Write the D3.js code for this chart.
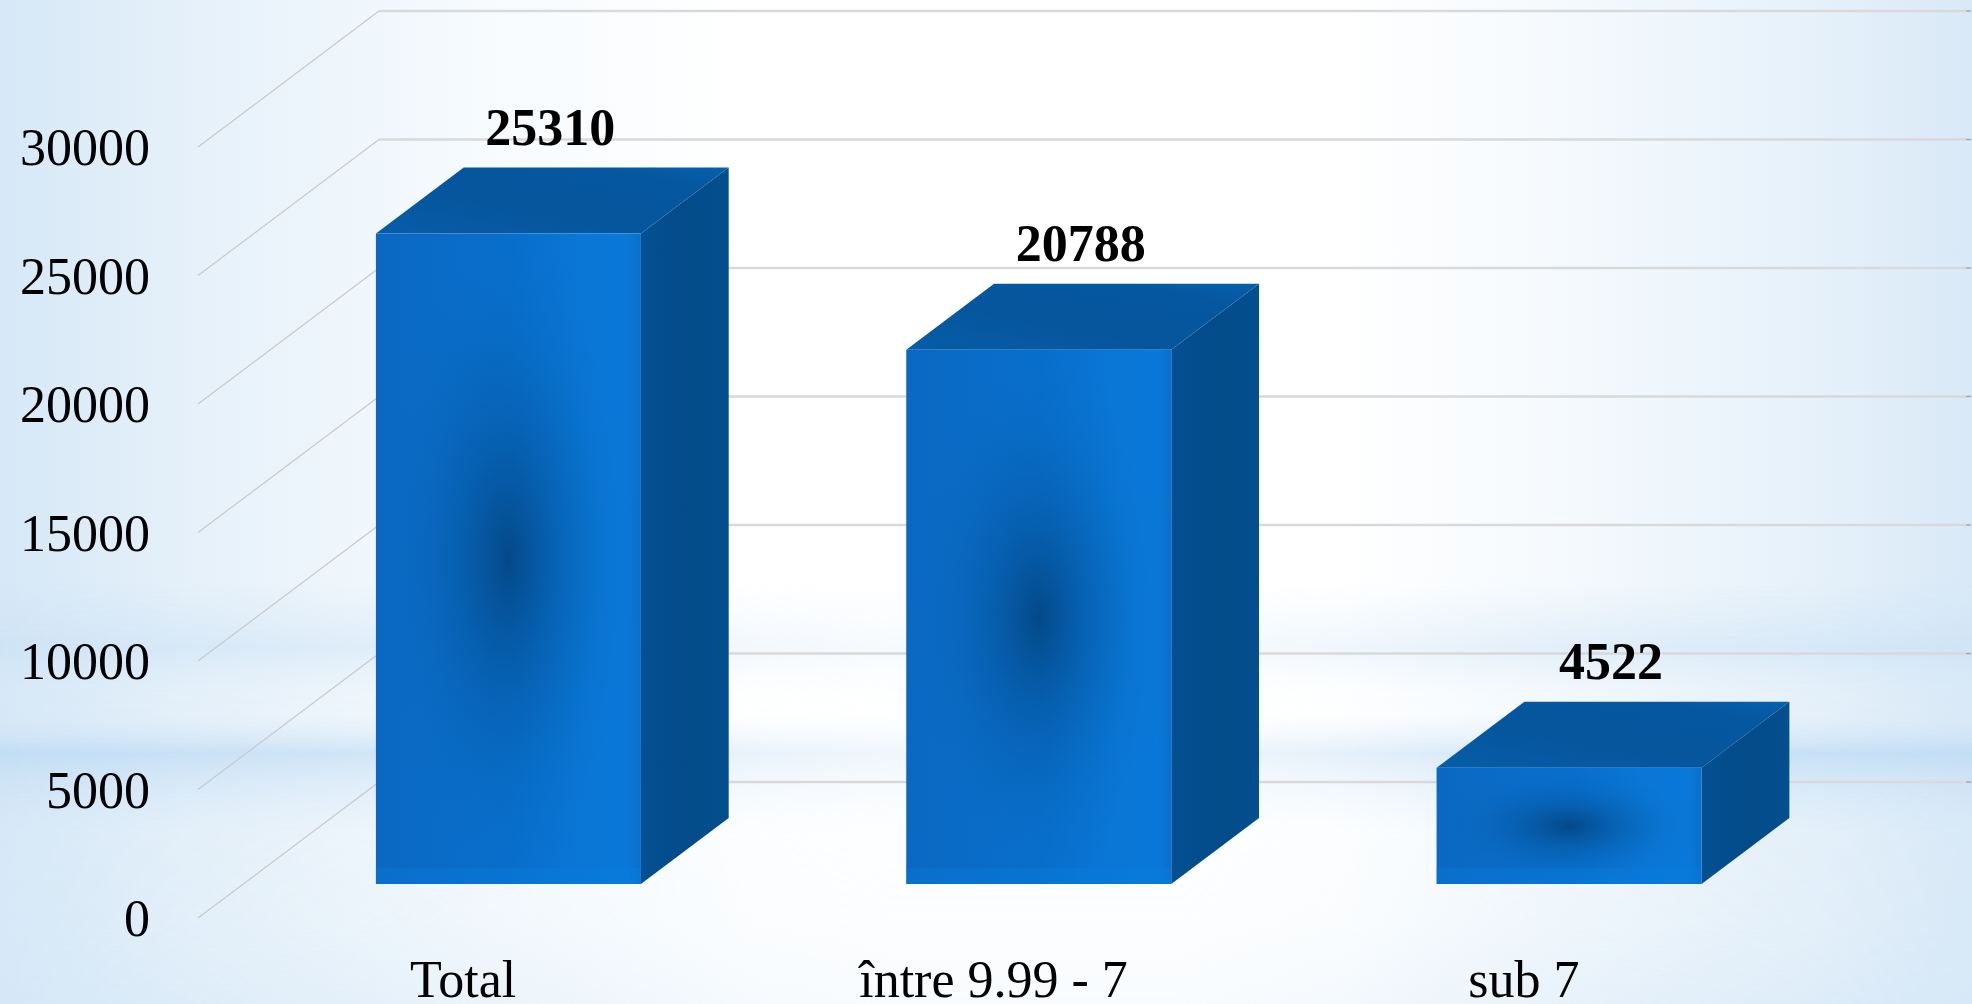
<!DOCTYPE html>
<html>
<head>
<meta charset="utf-8">
<script src="https://cdn.jsdelivr.net/npm/d3@7"></script>
<style>
  html, body { margin: 0; padding: 0; background: #ffffff; overflow: hidden; }
  svg { display: block; }
</style>
</head>
<body>
<svg id="chart" width="1972" height="1004"></svg>
<script>
// ---- data ----
const categories = ["Total", "între 9.99 - 7", "sub 7"];
const values = [25310, 20788, 4522];
const yTicks = [0, 5000, 10000, 15000, 20000, 25000, 30000];
const yMax = 30000;

// ---- layout ----
const W = 1972, H = 1004;
const svg = d3.select("#chart");

// oblique 3D projection
const depthDX = 181, depthDY = -136;   // full depth offset (front plane -> back wall)
const barZ0 = 0.25, barZ1 = 0.735;     // bar depth span
const x = d3.scaleBand().domain(categories).range([198, 1789]).paddingInner(0).paddingOuter(0);
const y = d3.scaleLinear().domain([0, yMax]).range([918, 147]);
const barW = 265;
const P = (px, v, z) => [px + depthDX * z, y(v) + depthDY * z];

// ---- defs ----
const defs = svg.append("defs");

const bgH = defs.append("linearGradient").attr("id", "bgH").attr("x1", 0).attr("x2", 1).attr("y1", 0).attr("y2", 0);
[[0, "#d6e8f7"], [0.1, "#e6f1fa"], [0.25, "#f7fbfe"], [0.38, "#ffffff"], [0.68, "#ffffff"], [0.8, "#f4f9fd"], [0.92, "#e6f1fa"], [1, "#d9e9f7"]]
  .forEach(([o, c]) => bgH.append("stop").attr("offset", o).attr("stop-color", c));

const bgBands = defs.append("linearGradient").attr("id", "bgBands").attr("x1", 0).attr("x2", 0).attr("y1", 0).attr("y2", 1);
[[0, "#ffffff", 0], [0.58, "#cfe4f6", 0], [0.645, "#c8e0f5", 0.55], [0.69, "#d8eaf8", 0.1], [0.71, "#d8eaf8", 0.05],
 [0.75, "#bcdaf3", 0.8], [0.78, "#c6dff5", 0.5], [0.83, "#d8eaf8", 0.15], [0.92, "#d8eaf8", 0.25], [1, "#d4e7f7", 0.5]]
  .forEach(([o, c, a]) => bgBands.append("stop").attr("offset", o).attr("stop-color", c).attr("stop-opacity", a));

const bandMaskGrad = defs.append("linearGradient").attr("id", "bandMaskGrad").attr("x1", 0).attr("x2", 1).attr("y1", 0).attr("y2", 0);
[[0, 1], [0.2, 0.75], [0.45, 0.3], [0.6, 0.3], [0.8, 0.8], [1, 1]]
  .forEach(([o, a]) => bandMaskGrad.append("stop").attr("offset", o).attr("stop-color", "#fff").attr("stop-opacity", a));
defs.append("mask").attr("id", "bandMask").append("rect")
  .attr("width", W).attr("height", H).attr("fill", "url(#bandMaskGrad)");

const frontGrad = defs.append("linearGradient").attr("id", "frontGrad").attr("x1", 0).attr("x2", 1).attr("y1", 0).attr("y2", 0);
[[0, "#0a68c2"], [0.2, "#0a6bc6"], [0.5, "#086ecb"], [0.8, "#0a77d6"], [0.95, "#0a78d8"], [1, "#086fcc"]]
  .forEach(([o, c]) => frontGrad.append("stop").attr("offset", o).attr("stop-color", c));

const spot = defs.append("radialGradient").attr("id", "spot").attr("cx", 0.5).attr("cy", 0.5).attr("r", 0.5);
[[0, "#03427d", 0.85], [0.35, "#044d8f", 0.45], [0.7, "#0558a0", 0.12], [1, "#0a68c2", 0]]
  .forEach(([o, c, a]) => spot.append("stop").attr("offset", o).attr("stop-color", c).attr("stop-opacity", a));

const sideGrad = defs.append("linearGradient").attr("id", "sideGrad").attr("x1", 0).attr("x2", 1).attr("y1", 0).attr("y2", 0);
[[0, "#045092"], [0.5, "#034b89"], [1, "#044f8e"]]
  .forEach(([o, c]) => sideGrad.append("stop").attr("offset", o).attr("stop-color", c));

const topGrad = defs.append("linearGradient").attr("id", "topGrad").attr("x1", 0).attr("x2", 1).attr("y1", 1).attr("y2", 0);
[[0, "#075da8"], [0.4, "#05569d"], [0.8, "#05579f"], [1, "#0660ac"]]
  .forEach(([o, c]) => topGrad.append("stop").attr("offset", o).attr("stop-color", c));

// ---- background ----
svg.append("rect").attr("width", W).attr("height", H).attr("fill", "url(#bgH)");
svg.append("rect").attr("width", W).attr("height", H).attr("fill", "url(#bgBands)").attr("mask", "url(#bandMask)");

// ---- walls: side-wall diagonals and back-wall gridlines ----
const x0 = x.range()[0], x1 = x.range()[1];
svg.append("g").selectAll("line").data(yTicks).join("line")
  .attr("x1", d => P(x0, d, 0)[0]).attr("y1", d => P(x0, d, 0)[1])
  .attr("x2", d => P(x0, d, 1)[0]).attr("y2", d => P(x0, d, 1)[1])
  .attr("stroke", "#c9c9c9").attr("stroke-width", 1.2);

svg.append("g").selectAll("line").data(yTicks).join("line")
  .attr("x1", d => P(x0, d, 1)[0]).attr("y1", d => P(x0, d, 1)[1])
  .attr("x2", d => P(x1, d, 1)[0] - 4).attr("y2", d => P(x1, d, 1)[1])
  .attr("stroke", "#d9d9d9").attr("stroke-width", 2.5);
svg.append("g").selectAll("line").data(yTicks).join("line")
  .attr("x1", d => P(x1, d, 1)[0] - 4).attr("y1", d => P(x1, d, 1)[1])
  .attr("x2", d => P(x1, d, 1)[0] + 1).attr("y2", d => P(x1, d, 1)[1])
  .attr("stroke", "#a8a8a8").attr("stroke-width", 1.5);

// ---- bars ----
const bars = svg.append("g").selectAll("g").data(categories.map((c, i) => ({ c, v: values[i] }))).join("g");
const pts = a => a.map(p => p.join(",")).join(" ");

bars.each(function (d) {
  const g = d3.select(this);
  const L = x(d.c) + x.bandwidth() / 2 - barW / 2, R = L + barW;
  const fBL = P(L, 0, barZ0), fBR = P(R, 0, barZ0), fTL = P(L, d.v, barZ0), fTR = P(R, d.v, barZ0);
  const bBR = P(R, 0, barZ1), bTL = P(L, d.v, barZ1), bTR = P(R, d.v, barZ1);
  // side
  g.append("polygon").attr("points", pts([fBR, fTR, bTR, bBR])).attr("fill", "url(#sideGrad)");
  // top
  g.append("polygon").attr("points", pts([fTL, fTR, bTR, bTL])).attr("fill", "url(#topGrad)");
  // front
  g.append("rect").attr("x", fTL[0]).attr("y", fTL[1]).attr("width", barW).attr("height", fBL[1] - fTL[1])
    .attr("fill", "url(#frontGrad)");
  g.append("rect").attr("x", fTL[0]).attr("y", fTL[1]).attr("width", barW).attr("height", fBL[1] - fTL[1])
    .attr("fill", "url(#spot)");
  g.append("rect").attr("x", fBL[0]).attr("y", fBL[1] - 16).attr("width", barW).attr("height", 16)
    .attr("fill", "#0a7de0").attr("opacity", 0.35);
  // value label
  g.append("text")
    .attr("x", (fTL[0] + bTR[0]) / 2 - 2)
    .attr("y", bTL[1] - 23)
    .attr("text-anchor", "middle")
    .attr("font-family", "'Liberation Serif', 'Times New Roman', serif")
    .attr("font-weight", "bold")
    .attr("font-size", 52)
    .attr("fill", "#000")
    .text(d.v);
});

// ---- axes ----
const yAxis = svg.append("g").attr("transform", "translate(150,0)")
  .call(d3.axisLeft(y).tickValues(yTicks).tickSize(0).tickPadding(0).tickFormat(d3.format("d")));
yAxis.select(".domain").remove();
yAxis.selectAll("text")
  .attr("font-family", "'Liberation Serif', 'Times New Roman', serif")
  .attr("font-size", 52).attr("fill", "#000").attr("dy", "0.34em");

const xAxis = svg.append("g").attr("transform", "translate(0,960)")
  .call(d3.axisBottom(x).tickSize(0).tickPadding(0));
xAxis.select(".domain").remove();
xAxis.selectAll("text")
  .attr("font-family", "'Liberation Serif', 'Times New Roman', serif")
  .attr("font-size", 52).attr("fill", "#000").attr("dy", "0.72em");
</script>
</body>
</html>
